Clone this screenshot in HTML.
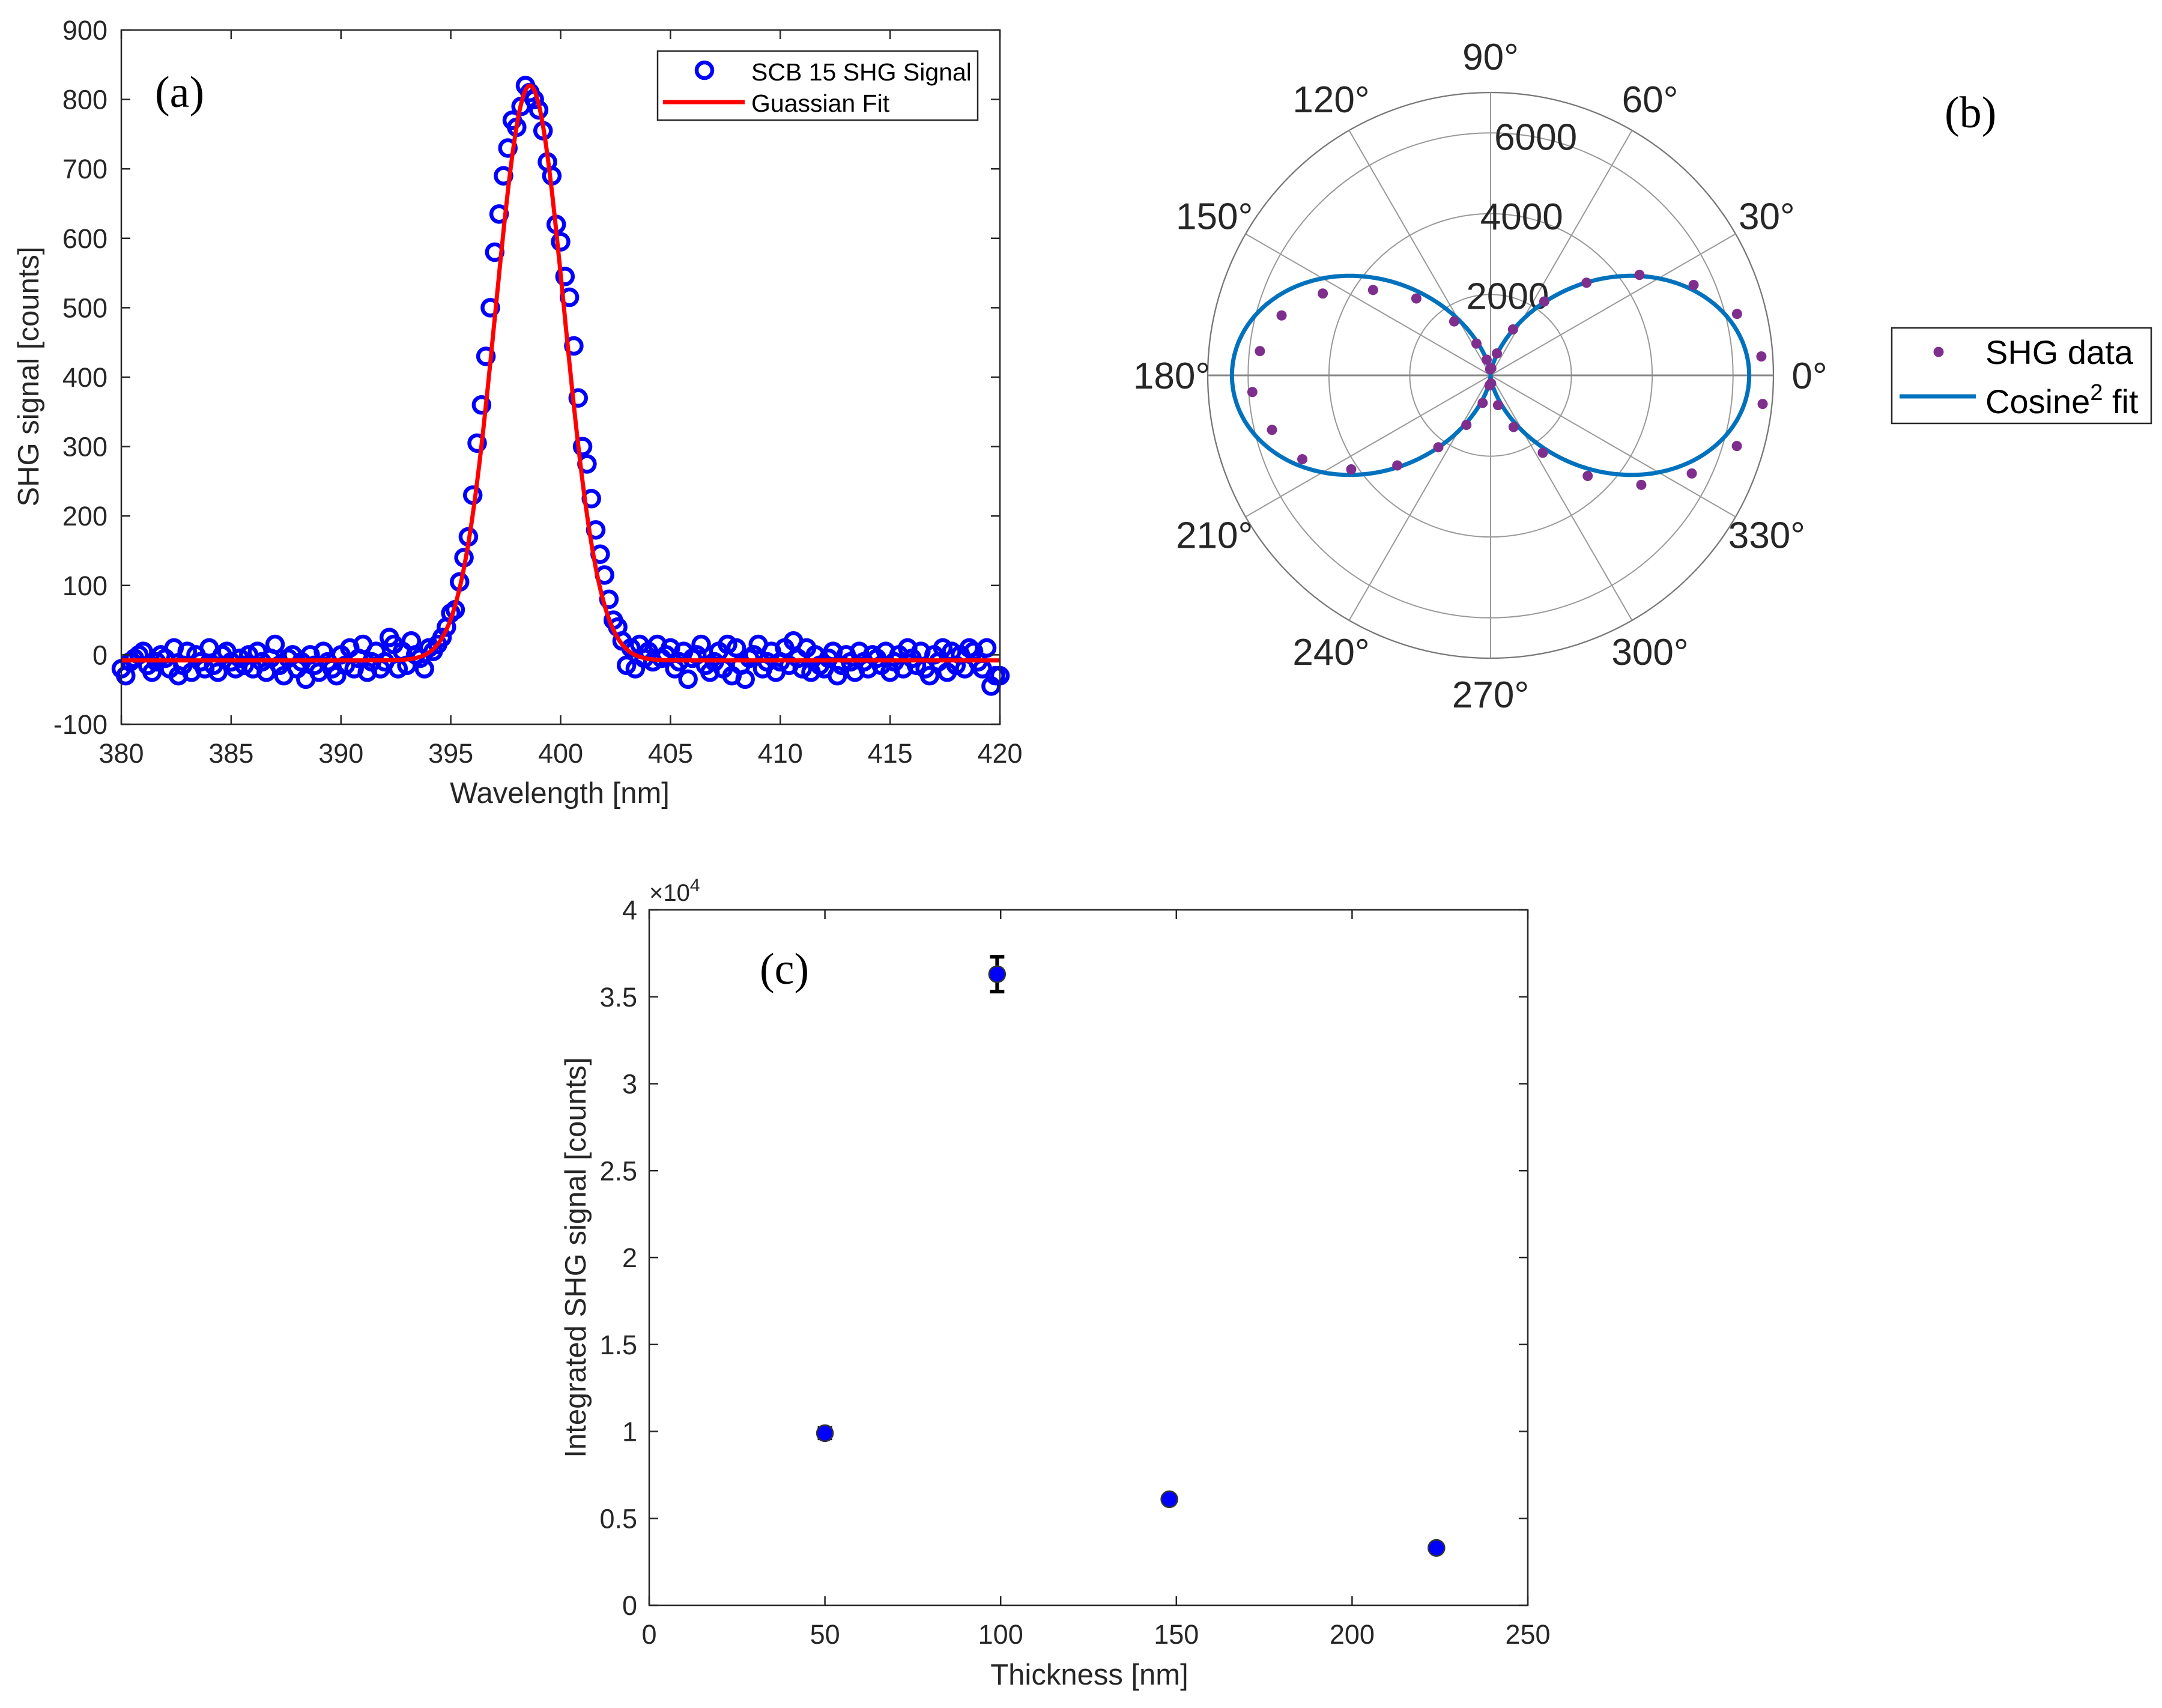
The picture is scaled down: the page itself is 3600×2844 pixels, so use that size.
<!DOCTYPE html>
<html><head><meta charset="utf-8">
<style>
html,body{margin:0;padding:0;background:#fff;}
svg{display:block;font-family:"Liberation Sans",Arial,sans-serif;}
</style></head>
<body>
<svg id="fig" width="3600" height="2844" viewBox="0 0 3600 2844" xmlns="http://www.w3.org/2000/svg">
<rect x="0" y="0" width="3600" height="2844" fill="#fff"/>
<g id="pa"></g>
<g id="pb"></g>
<g id="pc"></g>
</svg>
<script>
// ---------- Panel (a) data ----------
const aXStart = 380;
const aXStep = 0.2;
const aSignal = [
-20,-30,-10,-5,0,5,-15,-25,-10,0,
-5,-20,10,-30,-15,5,-25,0,-10,-20,
10,-15,-25,0,5,-10,-20,-5,-15,0,
-20,5,-10,-25,-5,15,-15,-30,-5,0,
-20,-10,-35,0,-15,-25,5,-10,-20,-30,
0,-15,10,-20,-5,15,-25,-10,5,-20,
-10,
25,15,-20,5,-15,20,0,-5,-20,10,5,15,25,40,
60,65,105,140,170,230,305,360,430,500,580,635,690,730,770,760,790,820,810,800,
785,755,710,690,620,595,545,515,445,370,300,275,225,180,145,115,80,50,40,20,
-15,10,-20,15,-5,
5,-10,15,-5,0,10,-20,-10,5,-35,
-5,0,15,-15,-25,-10,5,-20,15,-30,
10,-15,-35,-5,0,15,-20,-10,5,-25,
-10,10,-15,20,-5,-20,10,-25,0,-15,
-20,-5,5,-30,-15,0,-10,-25,5,-10,
-20,0,-5,-15,5,-25,-10,0,-20,10,
-5,-15,5,-20,-30,0,-10,10,-25,5,
-15,0,-20,10,5,-10,-20,10,-45,-30,
-30];
const aFitParams = [828, 398.6, 1.57, -8]; // amplitude, center, sigma, offset
const aXTicks = [380,385,390,395,400,405,410,415,420];
const aYTicks = [-100,0,100,200,300,400,500,600,700,800,900];

// ---------- Panel (b) data ----------
const bAngles = [4,14,24,34,44,54,64,74,84,94,104,114,124,134,144,154,164,174,184,194,204,214,224,234,244,254,264,274,284,294,304,314,324,334,344,354];
const bRadii = [6717,6286,5500,4445,3300,2260,1265,565,175,150,400,860,1610,2645,3595,4620,5380,5740,5910,5575,5100,4160,3210,2200,1365,710,250,200,760,1400,2310,3460,4610,5540,6340,6770];
const bFitAmp = [6400];
const bRingTicks = [2000,4000,6000];
const bAngleTicks = [0,30,60,90,120,150,180,210,240,270,300,330];

// ---------- Panel (c) data ----------
const cThickness = [50,99,148,224];
const cSignal = [9900,36300,6100,3300];
const cError = [300,1000,150,150];
const cXTicks = [0,50,100,150,200,250];
const cYTicks = [0,5000,10000,15000,20000,25000,30000,35000,40000];
const cYTickLabels = ['0','0.5','1','1.5','2','2.5','3','3.5','4'];

const NS = 'http://www.w3.org/2000/svg';
function mk(parent, tag, attrs, text){
  const e = document.createElementNS(NS, tag);
  for (const k in attrs) e.setAttribute(k, attrs[k]);
  if (text !== undefined) e.textContent = text;
  parent.appendChild(e);
  return e;
}
const AX = '#262626';
const TF = 45;

// ================= Panel (a) =================
(function(){
  const g = document.getElementById('pa');
  const L=202,R=1665,T=50,B=1206;
  const xs = v => L + (v-380)/40*(R-L);
  const ys = v => B - (v+100)/1000*(B-T);
  const dg = mk(g,'g',{});
  
  
  aSignal.forEach((v,i)=>{
    const c = mk(dg,'circle',{cx:xs(aXStart+i*aXStep),cy:ys(v),r:13,fill:'none',stroke:'#0000ff','stroke-width':6.5});
    
    
  });
  let d='';
  for(let k=0;k<=800;k++){
    const x=380+k*0.05;
    const y=aFitParams[0]*Math.exp(-Math.pow(x-aFitParams[1],2)/(2*aFitParams[2]*aFitParams[2]))+aFitParams[3];
    d+=(k?'L':'M')+xs(x).toFixed(1)+','+ys(y).toFixed(1);
  }
  const fit = mk(g,'path',{d:d,fill:'none',stroke:'#ff0000','stroke-width':7});
  
  
  const box = mk(g,'rect',{x:L,y:T,width:R-L,height:B-T,fill:'none',stroke:AX,'stroke-width':2.5});
  
  
  aXTicks.forEach(t=>{
    const x=xs(t);
    mk(g,'line',{x1:x,y1:B,x2:x,y2:B-15,stroke:AX,'stroke-width':2.5});
    mk(g,'line',{x1:x,y1:T,x2:x,y2:T+15,stroke:AX,'stroke-width':2.5});
    const tl = mk(g,'text',{x:x,y:B+64,'font-size':TF,fill:AX,'text-anchor':'middle'},String(t));
    
    
  });
  aYTicks.forEach(t=>{
    const y=ys(t);
    mk(g,'line',{x1:L,y1:y,x2:L+15,y2:y,stroke:AX,'stroke-width':2.5});
    mk(g,'line',{x1:R,y1:y,x2:R-15,y2:y,stroke:AX,'stroke-width':2.5});
    const tl = mk(g,'text',{x:179,y:y+16,'font-size':TF,fill:AX,'text-anchor':'end'},String(t));
    
    
  });
  const xl = mk(g,'text',{x:932,y:1337,'font-size':49,fill:AX,'text-anchor':'middle'},'Wavelength [nm]');
  
  
  const yl = mk(g,'text',{x:0,y:0,'font-size':49,fill:AX,'text-anchor':'middle',transform:'translate(64,627) rotate(-90)'},'SHG signal [counts]');
  
  
  const pl = mk(g,'text',{x:258,y:178,'font-size':74,fill:'#000','font-family':'Liberation Serif, serif'},'(a)');
  
  
  const lg = mk(g,'g',{});
  
  
  mk(lg,'rect',{x:1095,y:85,width:533,height:115,fill:'#fff',stroke:AX,'stroke-width':2.5});
  mk(lg,'circle',{cx:1173,cy:117,r:13,fill:'none',stroke:'#0000ff','stroke-width':6.5});
  mk(lg,'text',{x:1251,y:134,'font-size':41,fill:'#000'},'SCB 15 SHG Signal');
  mk(lg,'line',{x1:1104,y1:170,x2:1240,y2:170,stroke:'#ff0000','stroke-width':7});
  mk(lg,'text',{x:1251,y:186,'font-size':41,fill:'#000'},'Guassian Fit');
})();

// ================= Panel (b) =================
(function(){
  const g = document.getElementById('pb');
  const cx=2482, cy=625, R=471, rmax=7000;
  const rs = v => v/rmax*R;
  const grid='#999';
  bRingTicks.forEach(t=>{
    const c = mk(g,'circle',{cx:cx,cy:cy,r:rs(t),fill:'none',stroke:grid,'stroke-width':2});
    
    
  });
  mk(g,'circle',{cx:cx,cy:cy,r:R,fill:'none',stroke:'#777','stroke-width':2.3});
  bAngleTicks.forEach(a=>{
    if (a>=180) return;
    const rad=a*Math.PI/180;
    const s = mk(g,'line',{x1:cx+R*Math.cos(rad),y1:cy-R*Math.sin(rad),x2:cx-R*Math.cos(rad),y2:cy+R*Math.sin(rad),stroke:a===0?'#888':grid,'stroke-width':a===0?3:2});
    
    
  });
  bAngleTicks.forEach(a=>{
    const rad=a*Math.PI/180, rr=R+60;
    const t = mk(g,'text',{x:cx+rr*Math.cos(rad),y:cy-rr*Math.sin(rad)+22,'font-size':62,fill:AX,'text-anchor':'middle'},a+'°');
    
    
  });
  bRingTicks.forEach(v=>{
    const rad=80*Math.PI/180, rr=rs(v);
    const t = mk(g,'text',{x:cx+rr*Math.cos(rad)+5,y:cy-rr*Math.sin(rad)+22,'font-size':62,fill:AX,'text-anchor':'middle'},String(v));
    
    
  });
  let d='';
  for(let k=0;k<=720;k++){
    const th=k*0.5*Math.PI/180;
    const r=rs(bFitAmp[0]*Math.cos(th)*Math.cos(th));
    d+=(k?'L':'M')+(cx+r*Math.cos(th)).toFixed(1)+','+(cy-r*Math.sin(th)).toFixed(1);
  }
  const fit = mk(g,'path',{d:d,fill:'none',stroke:'#0072bd','stroke-width':7});
  
  
  bAngles.forEach((a,i)=>{
    const th=a*Math.PI/180, r=rs(bRadii[i]);
    const c = mk(g,'circle',{cx:cx+r*Math.cos(th),cy:cy-r*Math.sin(th),r:8.5,fill:'#7e2f8e'});
    
    
  });
  const pl = mk(g,'text',{x:3238,y:212,'font-size':74,fill:'#000','font-family':'Liberation Serif, serif'},'(b)');
  
  
  const lg = mk(g,'g',{});
  
  
  mk(lg,'rect',{x:3150,y:546,width:432,height:159,fill:'#fff',stroke:AX,'stroke-width':2.5});
  mk(lg,'circle',{cx:3228,cy:586,r:8.5,fill:'#7e2f8e'});
  mk(lg,'text',{x:3306,y:606,'font-size':56,fill:'#000'},'SHG data');
  mk(lg,'line',{x1:3163,y1:660,x2:3290,y2:660,stroke:'#0072bd','stroke-width':7});
  const ct = mk(lg,'text',{x:3306,y:688,'font-size':56,fill:'#000'});
  mk(ct,'tspan',{},'Cosine');
  mk(ct,'tspan',{dy:-22,'font-size':38},'2');
  mk(ct,'tspan',{dy:22},' fit');
})();

// ================= Panel (c) =================
(function(){
  const g = document.getElementById('pc');
  const L=1081,R=2544,T=1515,B=2673;
  const xs = v => L + v/250*(R-L);
  const ys = v => B - v/40000*(B-T);
  const box = mk(g,'rect',{x:L,y:T,width:R-L,height:B-T,fill:'none',stroke:AX,'stroke-width':2.5});
  
  
  cXTicks.forEach(t=>{
    const x=xs(t);
    mk(g,'line',{x1:x,y1:B,x2:x,y2:B-15,stroke:AX,'stroke-width':2.5});
    mk(g,'line',{x1:x,y1:T,x2:x,y2:T+15,stroke:AX,'stroke-width':2.5});
    const tl = mk(g,'text',{x:x,y:B+64,'font-size':TF,fill:AX,'text-anchor':'middle'},String(t));
    
    
  });
  cYTicks.forEach((t,i)=>{
    const y=ys(t);
    mk(g,'line',{x1:L,y1:y,x2:L+15,y2:y,stroke:AX,'stroke-width':2.5});
    mk(g,'line',{x1:R,y1:y,x2:R-15,y2:y,stroke:AX,'stroke-width':2.5});
    const tl = mk(g,'text',{x:1061,y:y+16,'font-size':TF,fill:AX,'text-anchor':'end'},cYTickLabels[i]);
    
    
  });
  const ex = mk(g,'text',{x:1081,y:1500,'font-size':40,fill:AX});
  
  
  mk(ex,'tspan',{},'×10');
  mk(ex,'tspan',{dy:-16,'font-size':30},'4');
  const xl = mk(g,'text',{x:1814,y:2805,'font-size':49,fill:AX,'text-anchor':'middle'},'Thickness [nm]');
  
  
  const yl = mk(g,'text',{x:0,y:0,'font-size':49,fill:AX,'text-anchor':'middle',transform:'translate(975,2094) rotate(-90)'},'Integrated SHG signal [counts]');
  
  
  const pl = mk(g,'text',{x:1265,y:1638,'font-size':74,fill:'#000','font-family':'Liberation Serif, serif'},'(c)');
  
  
  cThickness.forEach((t,i)=>{
    const x=xs(t), y1=ys(cSignal[i]-cError[i]), y2=ys(cSignal[i]+cError[i]);
    const eb = mk(g,'path',{d:`M${x},${y1}L${x},${y2}M${x-12},${y1}L${x+12},${y1}M${x-12},${y2}L${x+12},${y2}`,stroke:'#000','stroke-width':6,fill:'none'});
    
    
    const c = mk(g,'circle',{cx:x,cy:ys(cSignal[i]),r:13.5,fill:'#0000ff',stroke:'#333','stroke-width':2.5});
    
    
  });
})();
</script>
</body></html>
